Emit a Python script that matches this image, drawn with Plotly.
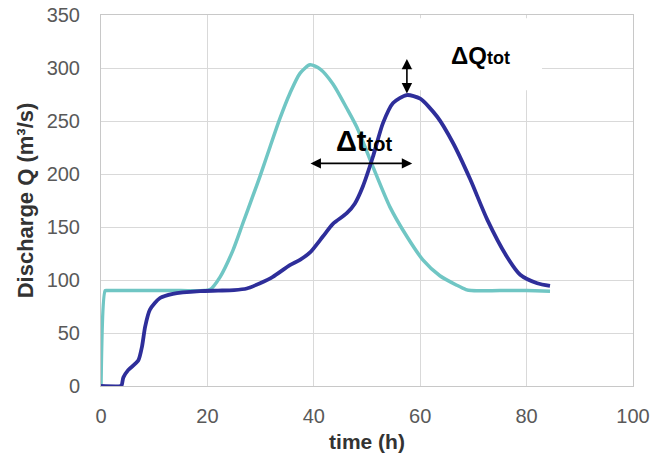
import plotly.graph_objects as go

# Upstream (inflow) hydrograph - cyan
t_in = [0, 0.8, 1.2, 5, 10, 15, 19.5, 20.5, 22.4, 24.8, 26.7, 28.6, 29.9, 31.8, 33.6, 35.5,
        37.4, 39.3, 41.2, 43.6, 46.2, 48.1, 51.1, 54.3, 57.5, 60.5, 63.7, 66.9, 68.6, 69.6,
        75, 80, 84.4]
q_in = [0, 90, 90, 90, 90, 90, 90, 91, 103, 128, 154, 180, 198, 226, 252, 276,
        295, 303, 299, 285, 262, 244, 207, 169, 141, 119, 104, 95, 91, 90,
        90, 90, 89.5]

# Downstream (routed) hydrograph - navy
t_out = [0, 3.7, 3.9, 4.2, 5.1, 7.0, 7.7, 8.3, 9.2, 11.1, 13.5, 18.6, 22, 25, 27.4, 29.9,
         32.3, 35.5, 37.4, 39.3, 41.7, 43.6, 46.2, 47.7, 49.2, 51.1, 53.0, 54.9, 57.5,
         60.0, 63.2, 66.2, 69.4, 72.6, 76.3, 78.8, 82.0, 84.4]
q_out = [0, 0, 1, 8, 15, 24, 37, 56, 72, 83, 87, 89.5, 90, 90.5, 92, 97,
         103, 114, 119, 126, 141, 153, 163, 172, 188, 216, 248, 267, 274.5,
         271, 254, 229, 195, 157, 122, 105, 97, 94.5]

x_ticks = [0, 20, 40, 60, 80, 100]
y_ticks = [0, 50, 100, 150, 200, 250, 300, 350]

# Annotation anchors (data units)
dq_x, dq_top, dq_bot = 57.5, 310, 276
dt_y, dt_left, dt_right = 210, 39.1, 58.5
dq_label = (71.3, 312)
dt_label = (49.4, 231)
blank_box = (58.6, 82.9, 279, 347)

fig = go.Figure()
fig.add_trace(go.Scatter(x=t_in, y=q_in, mode="lines",
                         line=dict(color="#70C6C4", width=3.5, shape="spline", smoothing=0.7),
                         showlegend=False))
fig.add_trace(go.Scatter(x=t_out, y=q_out, mode="lines",
                         line=dict(color="#2E2E9A", width=3.8, shape="spline", smoothing=0.7),
                         showlegend=False))

fig.add_shape(type="rect", xref="x", yref="y",
              x0=blank_box[0], x1=blank_box[1], y0=blank_box[2], y1=blank_box[3],
              fillcolor="white", line=dict(width=0), layer="between")

# double arrows
fig.add_annotation(x=dq_x, y=dq_bot, ax=dq_x, ay=dq_top, xref="x", yref="y",
                   axref="x", ayref="y", text="", showarrow=True, arrowhead=2,
                   arrowside="end+start", arrowwidth=1.6, arrowsize=1.3, arrowcolor="black")
fig.add_annotation(x=dt_right, y=dt_y, ax=dt_left, ay=dt_y, xref="x", yref="y",
                   axref="x", ayref="y", text="", showarrow=True, arrowhead=2,
                   arrowside="end+start", arrowwidth=1.6, arrowsize=1.3, arrowcolor="black")

fig.add_annotation(x=dq_label[0], y=dq_label[1], xref="x", yref="y", showarrow=False,
                   text='<b>ΔQ<span style="font-size:18px">tot</span></b>',
                   font=dict(family="Liberation Sans", size=24, color="black"))
fig.add_annotation(x=dt_label[0], y=dt_label[1], xref="x", yref="y", showarrow=False,
                   text='<b>Δt<span style="font-size:20px">tot</span></b>',
                   font=dict(family="Liberation Sans", size=29, color="black"))

axis_common = dict(showgrid=True, gridcolor="#D9D9D9", gridwidth=1,
                   showline=True, linecolor="#C8C8C8", linewidth=1, mirror=True,
                   zeroline=False, ticks="",
                   tickfont=dict(family="Liberation Sans", size=20, color="#595959"))

fig.update_xaxes(range=[0, 100], tickvals=x_ticks, ticklabelstandoff=12,
                 title=dict(text="<b>time (h)</b>", standoff=8,
                            font=dict(family="Liberation Sans", size=21, color="#333333")),
                 automargin=False, **axis_common)
fig.update_yaxes(range=[0, 350], tickvals=y_ticks, ticklabelstandoff=16,
                 title=dict(text="<b>Discharge Q (m³/s)</b>", standoff=6,
                            font=dict(family="Liberation Sans", size=22, color="#333333")),
                 automargin=False, **axis_common)

fig.update_layout(width=656, height=457, margin=dict(l=101, r=23, t=15, b=71),
                  plot_bgcolor="white", paper_bgcolor="white")

fig.write_html("out.html")
